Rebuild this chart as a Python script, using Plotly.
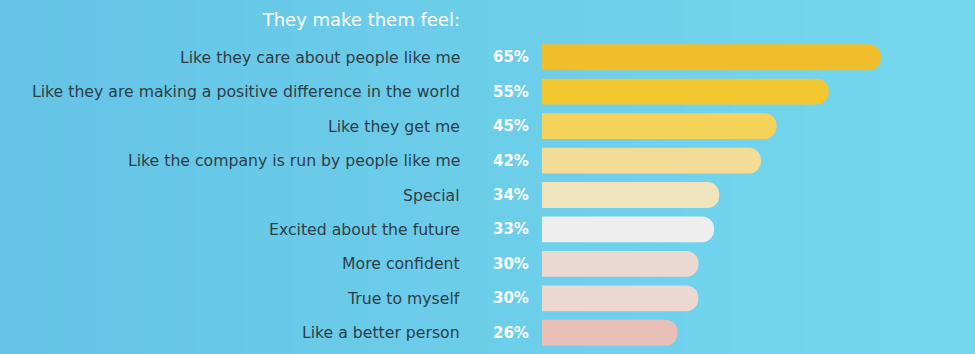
import plotly.graph_objects as go

categories = [
    "Like they care about people like me",
    "Like they are making a positive difference in the world",
    "Like they get me",
    "Like the company is run by people like me",
    "Special",
    "Excited about the future",
    "More confident",
    "True to myself",
    "Like a better person",
]
values = [65, 55, 45, 42, 34, 33, 30, 30, 26]
pct_labels = ["65%", "55%", "45%", "42%", "34%", "33%", "30%", "30%", "26%"]
bar_colors = ["#F0BE2A", "#F3C730", "#F5D35A", "#F2DC96", "#F0E4BE",
              "#EEEEEE", "#EBD8D2", "#EBD8D2", "#E9C0B8"]
title_text = "They make them feel:"

W, H = 975, 354
ML, MR, MT, MB = 542, 16, 40, 4

fig = go.Figure()
fig.add_trace(go.Bar(
    x=values, y=categories, orientation="h",
    marker=dict(color=bar_colors, line=dict(width=0), cornerradius="50%"),
    width=0.75, hoverinfo="skip",
))

for cat, lab in zip(categories, pct_labels):
    fig.add_annotation(x=0, y=cat, xref="x", yref="y", text=lab,
                       showarrow=False, xanchor="right", xshift=-11,
                       font=dict(family="DejaVu Sans", size=15, color="#FAFCFD", weight="bold"))

for cat in categories:
    fig.add_annotation(x=0, y=cat, xref="x", yref="y", text=cat,
                       showarrow=False, xanchor="right", xshift=-80,
                       font=dict(family="DejaVu Sans", size=15.7, color="#2C3E48"))

# horizontal background gradient
c0 = (0x65, 0xC4, 0xE5)
c1 = (0x74, 0xD7, 0xEE)
n = 40
pw = W - ML - MR
shapes = []
for i in range(n):
    t = i / (n - 1)
    col = "rgb(%d,%d,%d)" % tuple(round(a + (b - a) * t) for a, b in zip(c0, c1))
    px0 = W * i / n
    px1 = W * (i + 1) / n + 1
    shapes.append(dict(type="rect", xref="paper", yref="paper", layer="below",
                       x0=(px0 - ML) / pw, x1=(px1 - ML) / pw,
                       y0=-MB / (H - MT - MB) - 0.05, y1=1 + MT / (H - MT - MB) + 0.05,
                       fillcolor=col, line=dict(width=0)))

fig.update_layout(
    width=W, height=H,
    margin=dict(l=ML, r=MR, t=MT, b=MB),
    paper_bgcolor="#6CCCE9", plot_bgcolor="rgba(0,0,0,0)",
    showlegend=False,
    shapes=shapes,
    title=dict(text=title_text, xref="container", yref="container",
               x=460/975, xanchor="right", y=1-20/354, yanchor="middle",
               font=dict(family="DejaVu Sans", size=18, color="white")),
    xaxis=dict(range=[0, 80], visible=False, fixedrange=True),
    yaxis=dict(range=[8.5, -0.5], autorange=False, showticklabels=False,
               showgrid=False, zeroline=False, showline=False, fixedrange=True),
)

fig.write_html("out.html")
